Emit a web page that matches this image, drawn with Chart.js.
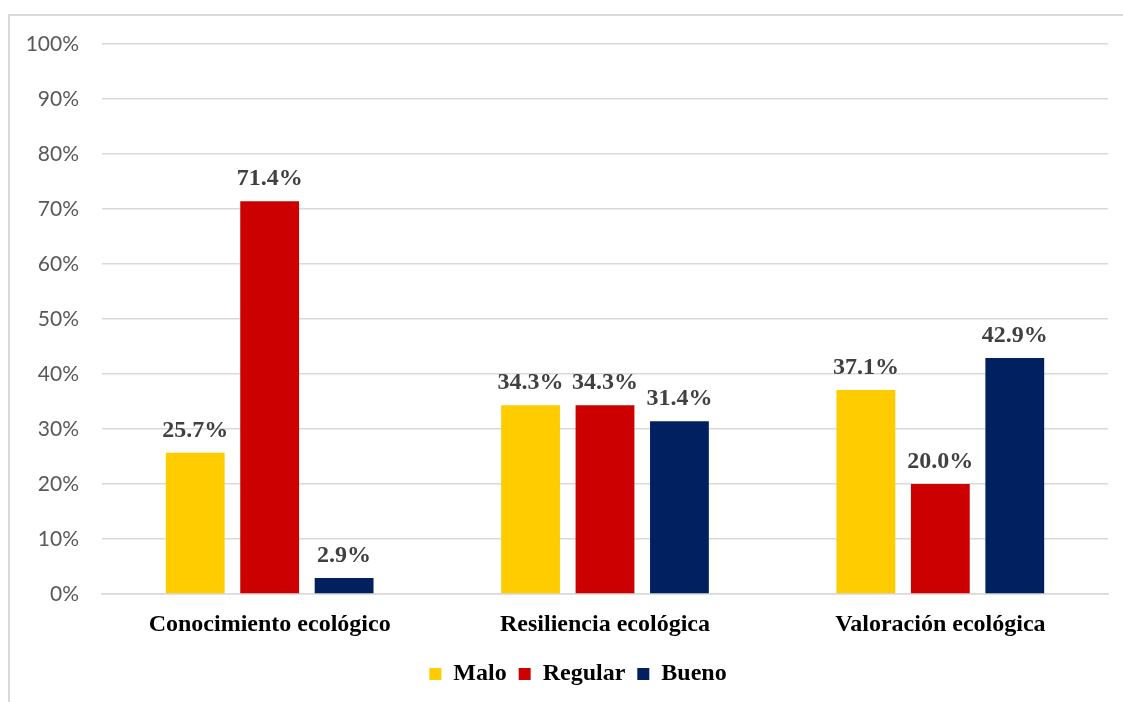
<!DOCTYPE html>
<html>
<head>
<meta charset="utf-8">
<script src="https://cdn.jsdelivr.net/npm/chart.js@4"></script>
<style>
  html, body { margin: 0; padding: 0; background: #fff; }
  #wrap { position: relative; width: 1123px; height: 702px; overflow: hidden; }
  #frame { position: absolute; left: 8px; top: 14px; width: 1130px; height: 700px;
           border: 2px solid #d9d9d9; box-sizing: border-box; }
  canvas { position: absolute; left: 0; top: 0; }
</style>
</head>
<body>
<div id="wrap">
  <div id="frame"></div>
  <canvas id="c" width="1123" height="702"></canvas>
</div>
<script>
// --- datos ---
const categories = ["Conocimiento ecológico", "Resiliencia ecológica", "Valoración ecológica"];
const seriesNames = ["Malo", "Regular", "Bueno"];
const malo = [25.7, 34.3, 37.1];
const regular = [71.4, 34.3, 20.0];
const bueno = [2.9, 31.4, 42.9];
const yTicks = [0, 10, 20, 30, 40, 50, 60, 70, 80, 90, 100];

const colors = ["#FFCC00", "#CC0000", "#002060"];

// --- plugin: etiquetas encima de cada barra ---
const barLabels = {
  id: "barLabels",
  afterDatasetsDraw(chart) {
    const ctx = chart.ctx;
    ctx.save();
    ctx.font = "bold 24px 'Liberation Serif'";
    ctx.fillStyle = "#404040";
    ctx.textAlign = "center";
    ctx.textBaseline = "alphabetic";
    chart.data.datasets.forEach((ds, i) => {
      chart.getDatasetMeta(i).data.forEach((bar, j) => {
        ctx.fillText(ds.data[j].toFixed(1) + "%", bar.x, bar.y - 16);
      });
    });
    ctx.restore();
  },
};

// --- plugin: corre la leyenda un poco a la derecha (como en el original) ---
const legendShift = {
  id: "legendShift",
  afterLayout(chart) {
    if (chart.legend) {
      chart.legend.left += 24;
      chart.legend.right += 24;
    }
  },
};

new Chart(document.getElementById("c"), {
  type: "bar",
  data: {
    labels: categories,
    datasets: [malo, regular, bueno].map((d, i) => ({
      label: seriesNames[i],
      data: d,
      backgroundColor: colors[i],
      categoryPercentage: 0.666,
      barPercentage: 0.79,
    })),
  },
  options: {
    responsive: false,
    animation: false,
    layout: { padding: { left: 0, right: 15, top: 44, bottom: 6 } },
    plugins: {
      tooltip: { enabled: false },
      legend: {
        position: "bottom",
        labels: {
          boxWidth: 12,
          boxHeight: 12,
          padding: 12,
          color: "#000",
          font: { family: "'Liberation Serif'", weight: "bold", size: 24 },
        },
      },
    },
    scales: {
      x: {
        grid: { display: false },
        border: { color: "#d9d9d9", width: 1.5 },
        ticks: {
          padding: 8,
          color: "#000",
          font: { family: "'Liberation Serif'", weight: "bold", size: 24 },
        },
        afterFit(s) { s.height = 56; },
      },
      y: {
        min: 0,
        max: 100,
        afterBuildTicks(s) { s.ticks = yTicks.map(v => ({ value: v })); },
        grid: { color: "#d9d9d9", lineWidth: 1.5, drawTicks: false },
        border: { display: false },
        ticks: {
          padding: 23,
          color: "#595959",
          font: { family: "Lato", size: 21 },
          callback: v => v + "%",
        },
        afterFit(s) { s.width = 102; },
      },
    },
  },
  plugins: [barLabels, legendShift],
});
</script>
</body>
</html>
